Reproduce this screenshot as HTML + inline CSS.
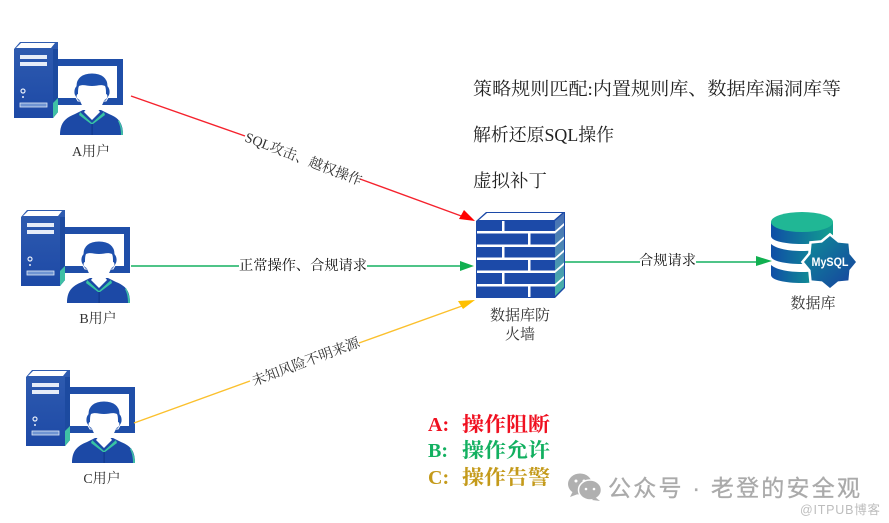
<!DOCTYPE html>
<html><head><meta charset="utf-8"><style>
html,body{margin:0;padding:0;background:#fff;width:889px;height:523px;overflow:hidden}
svg{display:block}
text{font-family:"Liberation Serif","Noto Serif CJK SC",serif}
</style></head><body>
<svg width="889" height="523" viewBox="0 0 889 523" xmlns="http://www.w3.org/2000/svg">
<defs>
<linearGradient id="tw" x1="0" y1="0" x2="0" y2="1"><stop offset="0" stop-color="#2f5cb0"/><stop offset="1" stop-color="#1d49a6"/></linearGradient>
<linearGradient id="db" x1="0" y1="0" x2="1" y2="0"><stop offset="0" stop-color="#0f4ea6"/><stop offset="1" stop-color="#12a08f"/></linearGradient>
<linearGradient id="star" x1="0" y1="0" x2="1" y2="1"><stop offset="0" stop-color="#0e8f98"/><stop offset="1" stop-color="#173f9f"/></linearGradient>
<linearGradient id="side" x1="0" y1="0" x2="0" y2="1"><stop offset="0" stop-color="#4a70b4"/><stop offset=".5" stop-color="#4c8cb4"/><stop offset="1" stop-color="#45b8a8"/></linearGradient>
<g id="user">
<path d="M14 49l6-7h38v70l-5 6H14z" fill="url(#tw)"/>
<path d="M16 48l5-5h34l-4 5z" fill="#fff"/>
<path d="M53 49h5v63l-5 6z" fill="#1c4aa0"/>
<path d="M53 103l5-5v14l-5 6z" fill="#3fc0a5"/>
<rect x="20" y="55" width="27" height="4" fill="#e6edf8"/>
<rect x="20" y="62" width="27" height="4" fill="#e6edf8"/>
<circle cx="23" cy="91" r="2" fill="none" stroke="#e6edf8" stroke-width="1.2"/>
<circle cx="23" cy="97" r="1" fill="#e6edf8"/>
<rect x="20" y="103" width="27" height="4" fill="#6f94d2" stroke="#dfe8f6" stroke-width=".8"/>
<path d="M58 59h65v46H58v-7h59V66H58z" fill="#1f4ea8"/>
<!-- white halo then body -->
<path d="M58 136c0-13 5-19 16-23l9-4h18l9 4c11 4 15 10 15 23z" fill="#fff"/>
<path d="M60 135c0-12 5-17 15-21l8-4h18l8 4c10 4 14 9 14 21z" fill="#1c49a6"/>
<path d="M119 120c2 4 4 9 4 15h-2c0-6-1-10-3-14z" fill="#3fc0a5"/>
<path d="M80 112l12 11 12-11 1 3-12 9h-2l-12-9z" fill="#38c4a3"/>
<path d="M84 112l8 8 8-8-3-4h-10z" fill="#fff"/>
<rect x="91.5" y="124" width="1.2" height="11" fill="#12398c"/>
<!-- hair -->
<path d="M75 96c-2-3-1-8 1-10 0-8 6-13 16-13s16 5 16 13c2 2 3 7 1 10l-3 5H78z" fill="#1e50ad" stroke="#fff" stroke-width="1"/>
<!-- face -->
<path d="M79 86c4-2 8 0 13 0s9-2 13 0c1 2 1 5 1 8 1 0 2 2 1 4-1 1-2 2-3 2-1 6-8 13-12 13s-11-7-12-13c-1 0-2-1-3-2-1-2 0-4 1-4 0-3 0-6 1-8z" fill="#fff"/>
</g>
</defs>
<rect width="889" height="523" fill="#fff"/>

<use href="#user"/>
<use href="#user" x="7" y="168"/>
<use href="#user" x="12" y="328"/>
<text x="91" y="156" font-size="14" text-anchor="middle" fill="#333">A用户</text>
<text x="98" y="323" font-size="14" text-anchor="middle" fill="#333">B用户</text>
<text x="102" y="483" font-size="14" text-anchor="middle" fill="#333">C用户</text>

<!-- connectors -->
<line x1="131" y1="96" x2="245" y2="136" stroke="#f5222d" stroke-width="1.4"/>
<line x1="360" y1="179" x2="464" y2="217" stroke="#f5222d" stroke-width="1.4"/>
<path d="M475 221l-11-11-5 9z" fill="#ff0000"/>
<line x1="131" y1="266" x2="239" y2="266" stroke="#15b060" stroke-width="1.4"/>
<line x1="367" y1="266" x2="462" y2="266" stroke="#15b060" stroke-width="1.4"/>
<path d="M474 266l-14-5v10z" fill="#10b050"/>
<line x1="134" y1="423" x2="250" y2="381" stroke="#fbc02d" stroke-width="1.4"/>
<line x1="359" y1="343" x2="462" y2="306" stroke="#fbc02d" stroke-width="1.4"/>
<path d="M475 300l-17 1 5 8z" fill="#ffc000"/>
<line x1="565" y1="262" x2="640" y2="262" stroke="#15b060" stroke-width="1.4"/>
<line x1="696" y1="262" x2="760" y2="262" stroke="#15b060" stroke-width="1.4"/>
<path d="M772 261l-16-5v10z" fill="#10b050"/>

<text transform="translate(244 141) rotate(21)" font-size="14" fill="#333" textLength="124" lengthAdjust="spacingAndGlyphs">SQL攻击、越权操作</text>
<text x="239" y="270" font-size="14" fill="#111" textLength="128" lengthAdjust="spacingAndGlyphs">正常操作、合规请求</text>
<text transform="translate(254 386) rotate(-20.5)" font-size="14" fill="#333" textLength="114" lengthAdjust="spacingAndGlyphs">未知风险不明来源</text>
<text x="639" y="265" font-size="14" fill="#111" textLength="57" lengthAdjust="spacingAndGlyphs">合规请求</text>

<!-- firewall -->
<path d="M476 221l10-9h79v76l-10 10h-79z" fill="#1c4aa8"/>
<path d="M479 220l8-7h75l-8 7z" fill="#fff"/>
<path d="M555 221l9-8v74l-9 9z" fill="url(#side)"/>
<g fill="#fff">
<rect x="477" y="231" width="78" height="2.5"/><rect x="477" y="244.500" width="78" height="2.500"/><rect x="477" y="257.500" width="78" height="2.500"/><rect x="477" y="270.500" width="78" height="2.500"/><rect x="477" y="284" width="78" height="2.500"/>
<rect x="502" y="221" width="2.500" height="10"/><rect x="528" y="233" width="2.500" height="12"/><rect x="502" y="247" width="2.500" height="11"/><rect x="528" y="260" width="2.500" height="11"/><rect x="502" y="273" width="2.500" height="11"/><rect x="528" y="286" width="2.500" height="11"/>
<path d="M555 231l9-8v2.500l-9 8zM555 244.500l9-8v2.500l-9 8zM555 257.500l9-8v2.500l-9 8zM555 270.500l9-8v2.500l-9 8zM555 284l9-8v2.500l-9 8z"/>
</g>
<text x="520" y="320" font-size="15" text-anchor="middle" fill="#333">数据库防</text>
<text x="520" y="339" font-size="15" text-anchor="middle" fill="#333">火墙</text>

<!-- database -->
<path d="M771 222v14c0 5 14 8 31 8s31-3 31-8v-14z" fill="url(#db)"/>
<ellipse cx="802" cy="222" rx="31" ry="10" fill="#20b795"/>
<path d="M771 244c6 5 18 7 31 7s25-2 31-7v12c0 5-14 8-31 8s-31-3-31-8z" fill="url(#db)"/>
<path d="M771 265c6 5 18 7 31 7 8 0 15-1 21-2v11c-6 1-13 2-21 2-17 0-31-3-31-8z" fill="url(#db)"/>
<path d="M830 236L838 242.600 848.400 243.600 849.400 254 856 262 849.400 270 848.400 280.400 838 281.400 830 288 822 281.400 811.600 280.400 810.600 270 804 262 810.600 254 811.600 243.600 822 242.600z" fill="url(#star)" stroke="#fff" stroke-width="5" paint-order="stroke"/>
<text x="830" y="266" font-size="12" font-weight="700" text-anchor="middle" fill="#fff" textLength="37" lengthAdjust="spacingAndGlyphs" style="font-family:'Liberation Sans',sans-serif">MySQL</text>
<text x="813" y="308" font-size="15" text-anchor="middle" fill="#333">数据库</text>

<!-- top notes -->
<g font-size="18" fill="#222">
<text x="473" y="95" textLength="368" lengthAdjust="spacingAndGlyphs">策略规则匹配:内置规则库、数据库漏洞库等</text>
<text x="473" y="141" textLength="141" lengthAdjust="spacingAndGlyphs">解析还原SQL操作</text>
<text x="473" y="187" textLength="74" lengthAdjust="spacingAndGlyphs">虚拟补丁</text>
</g>

<!-- legend -->
<g font-size="20" font-weight="700">
<text x="428" y="431" fill="#f01020">A:</text><text x="462" y="431" fill="#f01020" textLength="88" lengthAdjust="spacingAndGlyphs">操作阻断</text>
<text x="428" y="457" fill="#12b060">B:</text><text x="462" y="457" fill="#12b060" textLength="88" lengthAdjust="spacingAndGlyphs">操作允许</text>
<text x="428" y="484" fill="#c49a1a">C:</text><text x="462" y="484" fill="#c49a1a" textLength="88" lengthAdjust="spacingAndGlyphs">操作告警</text>
</g>

<!-- watermark -->
<ellipse cx="580" cy="484" rx="12" ry="10.500" fill="#b0b0b0"/>
<path d="M573 491l-3 6 8-3z" fill="#b0b0b0"/>
<circle cx="576" cy="481" r="1.500" fill="#fff"/><circle cx="584" cy="481" r="1.500" fill="#fff"/>
<ellipse cx="590" cy="490" rx="11.500" ry="10" fill="#b0b0b0" stroke="#fff" stroke-width="1.500"/>
<path d="M595 497l5 4-8-1z" fill="#b0b0b0"/>
<circle cx="586" cy="489" r="1.300" fill="#fff"/><circle cx="594" cy="489" r="1.300" fill="#fff"/>
<text x="608" y="496" font-size="23" fill="#aaa" stroke="#aaa" stroke-width=".3" textLength="252" style="font-family:'Liberation Sans','Noto Sans CJK SC',sans-serif">公众号 · 老登的安全观</text>
<text x="800" y="514" font-size="12.500" fill="#bdbdbd" textLength="80" style="font-family:'Liberation Sans','Noto Sans CJK SC',sans-serif">@ITPUB博客</text>
</svg>
</body></html>
